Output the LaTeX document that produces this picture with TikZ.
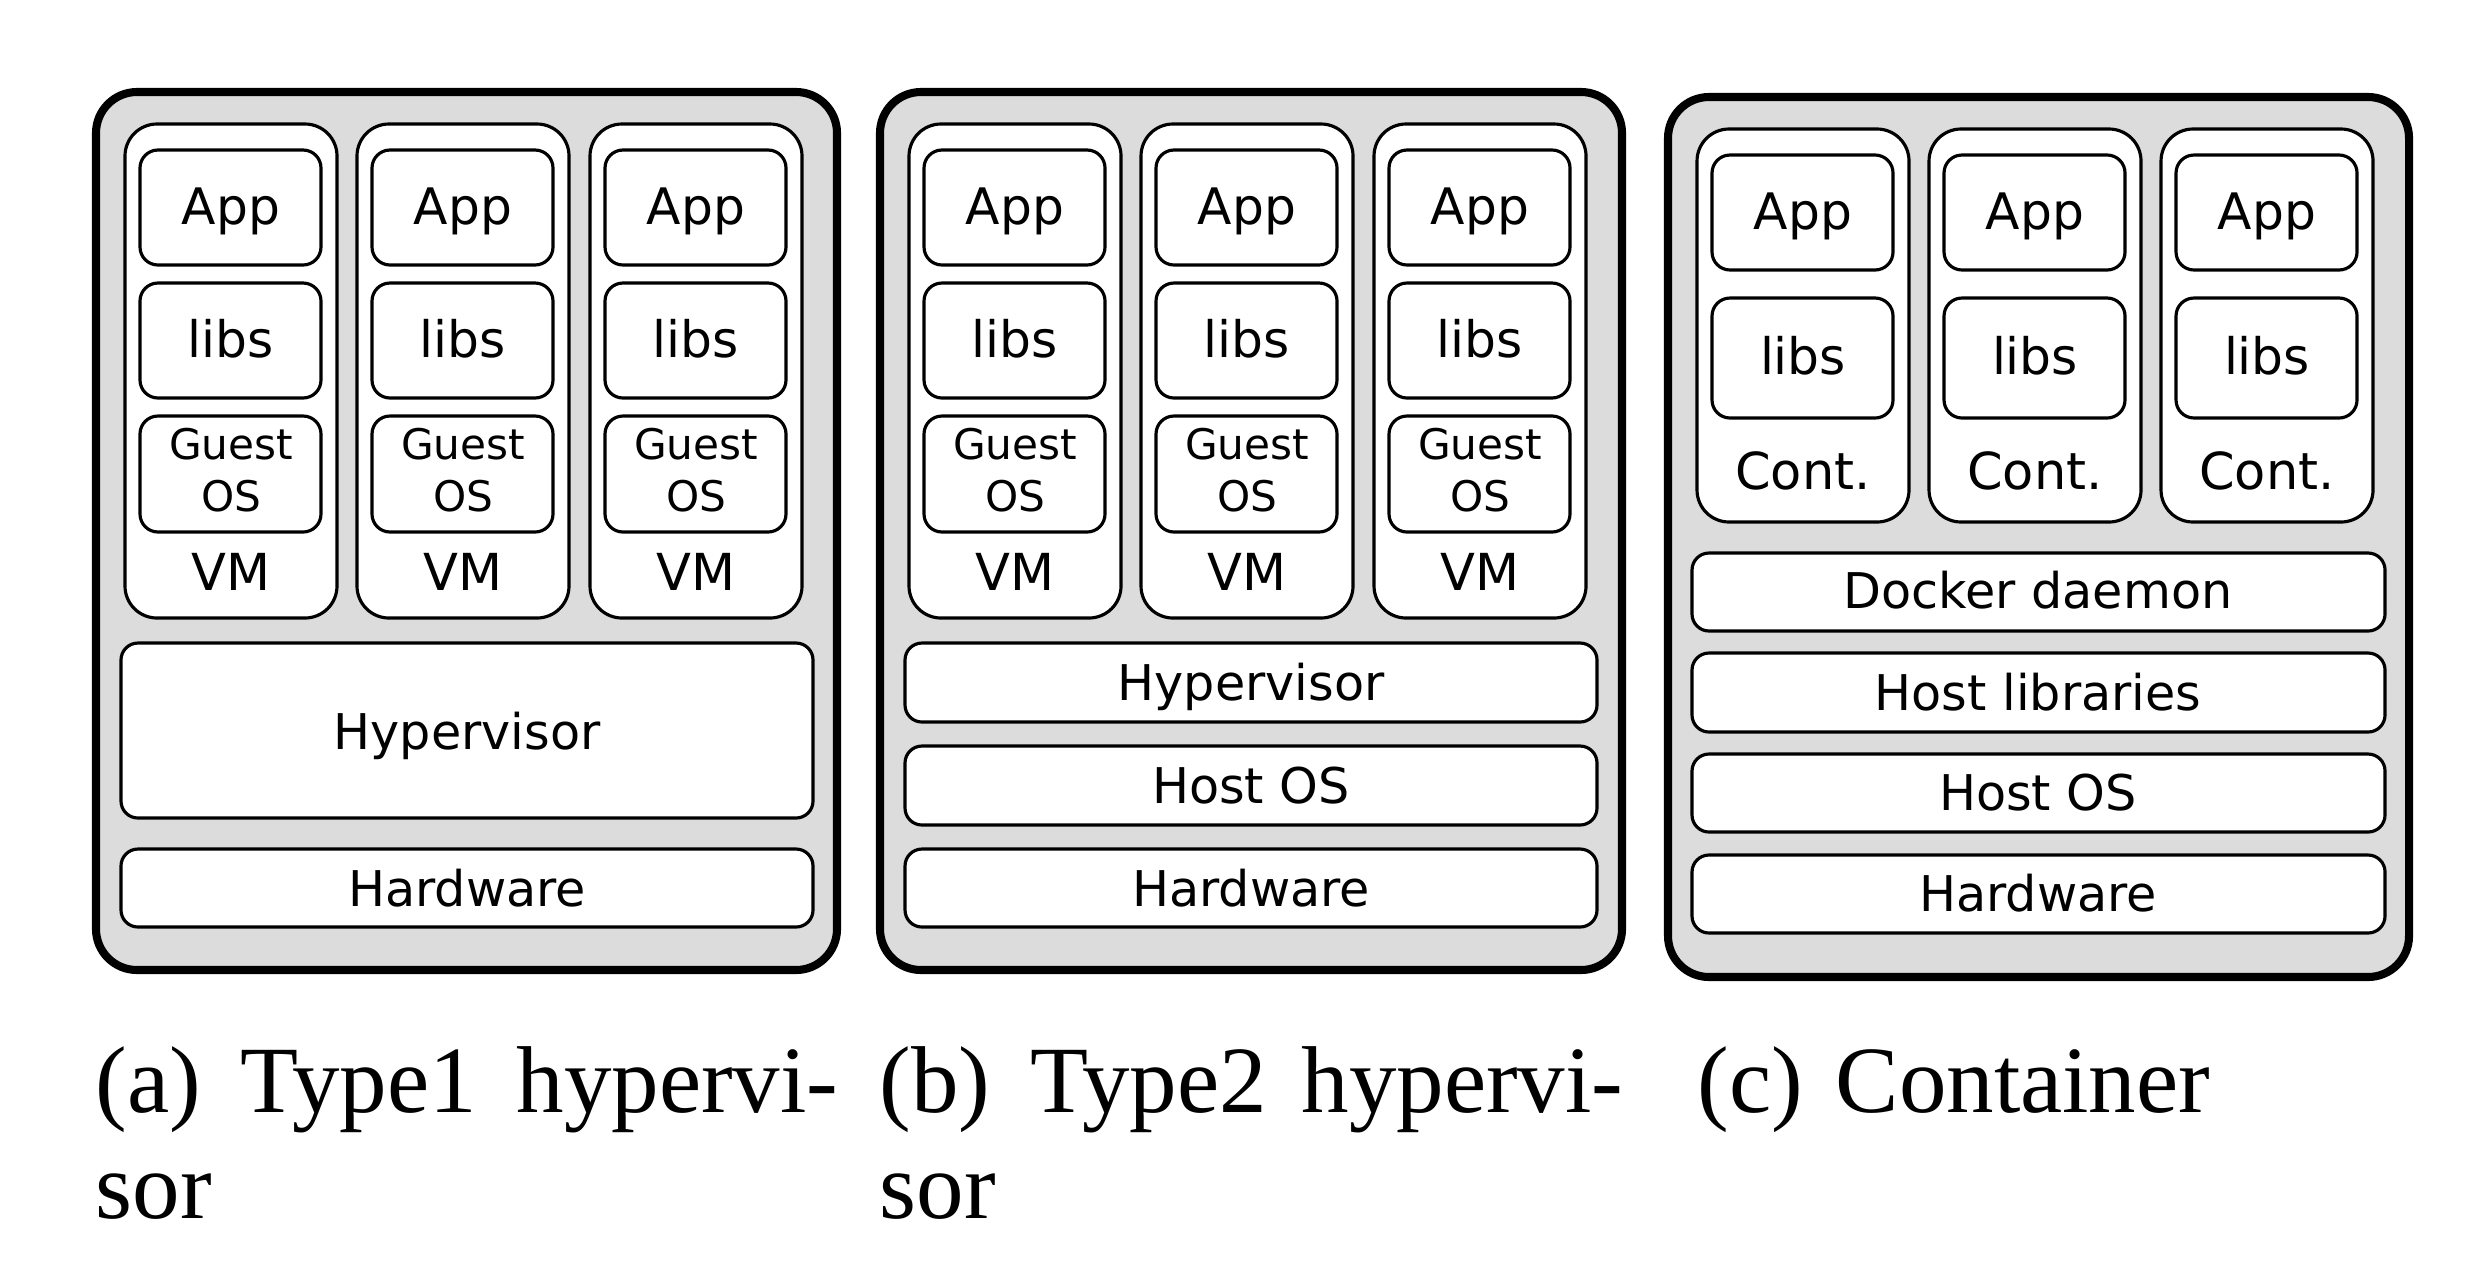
\documentclass[tikz,border=0pt]{standalone}
\usepackage{fontspec}
\newfontfamily\boxfont{DejaVu Sans}
\newfontfamily\capfont{Liberation Serif}
\usetikzlibrary{fit}
\definecolor{panelgray}{HTML}{DCDCDC}
\tikzset{
  panel/.style={draw=black, line width=2.3pt, fill=panelgray, rounded corners=0.41cm, inner sep=0pt},
  vmbox/.style={draw=black, line width=0.9pt, fill=white, rounded corners=0.32cm, inner sep=0pt},
  appbox/.style={draw=black, line width=0.9pt, fill=white, rounded corners=0.18cm, inner sep=0pt},
  layer/.style={draw=black, line width=0.9pt, fill=white, rounded corners=0.17cm, inner sep=0pt},
  boxtext/.style={font=\boxfont\fontsize{14.3}{17}\selectfont, anchor=base, inner sep=0pt},
  layertext/.style={font=\boxfont\fontsize{14}{17}\selectfont, anchor=base, inner sep=0pt},
  guesttext/.style={font=\boxfont\fontsize{12}{14.8}\selectfont, anchor=base, inner sep=0pt},
  vmlabel/.style={font=\boxfont\fontsize{14.5}{17}\selectfont, anchor=base, inner sep=0pt},
  captext/.style={font=\capfont\fontsize{27}{30}\selectfont, inner sep=0pt}
}
\begin{document}
\begin{tikzpicture}[x=0.01cm, y=-0.01cm]
\useasboundingbox (0,0) rectangle (2492,1284);
% panels
\node[panel, fit={(96,92) (837,970)}] (pa) {};
\node[panel, fit={(880,92) (1622,970)}] (pb) {};
\node[panel, fit={(1668,97) (2409,977)}] (pc) {};
% VM stacks (a) and (b)
\foreach \p/\ox in {a/0, b/784} {
  \foreach \i/\l in {1/125, 2/357, 3/590} {
    \pgfmathsetmacro\vl{\l+\ox}
    \pgfmathsetmacro\vr{\l+\ox+212}
    \pgfmathsetmacro\al{\l+\ox+15}
    \pgfmathsetmacro\ar{\l+\ox+196}
    \pgfmathsetmacro\vc{\l+\ox+106}
    \node[vmbox, fit={(\vl,124) (\vr,618)}] (\p-vm\i) {};
    \node[appbox, fit={(\al,150) (\ar,265)}] (\p-app\i) {};
    \node[appbox, fit={(\al,283) (\ar,398)}] (\p-libs\i) {};
    \node[appbox, fit={(\al,416) (\ar,532)}] (\p-os\i) {};
    \node[boxtext] (\p-appT\i) at (\vc,224) {App};
    \node[boxtext] (\p-libsT\i) at (\vc,357) {libs};
    \node[guesttext] (\p-osTa\i) at (\vc,459) {Guest};
    \node[guesttext] (\p-osTb\i) at (\vc,511) {OS};
    \node[vmlabel] (\p-vml\i) at (\vc,590) {VM};
  }
}
% containers (c)
\foreach \i/\l in {1/1697, 2/1929, 3/2161} {
  \pgfmathsetmacro\vr{\l+212}
  \pgfmathsetmacro\al{\l+15}
  \pgfmathsetmacro\ar{\l+196}
  \pgfmathsetmacro\vc{\l+106}
  \node[vmbox, fit={(\l,129) (\vr,522)}] (c-cont\i) {};
  \node[appbox, fit={(\al,155) (\ar,270)}] (c-app\i) {};
  \node[appbox, fit={(\al,298) (\ar,418)}] (c-libs\i) {};
  \node[boxtext] (c-appT\i) at (\vc,229) {App};
  \node[boxtext] (c-libsT\i) at (\vc,374) {libs};
  \node[vmlabel] (c-contl\i) at (\vc,489) {Cont.};
}
% layers
\node[layer, fit={(121,643) (813,818)}] (a-hyp) {};
\node[layer, fit={(121,849) (813,927)}] (a-hw) {};
\node[layer, fit={(905,643) (1597,722)}] (b-hyp) {};
\node[layer, fit={(905,746) (1597,825)}] (b-host) {};
\node[layer, fit={(905,849) (1597,927)}] (b-hw) {};
\node[layer, fit={(1692,553) (2385,631)}] (c-dock) {};
\node[layer, fit={(1692,653) (2385,732)}] (c-hlib) {};
\node[layer, fit={(1692,754) (2385,832)}] (c-host) {};
\node[layer, fit={(1692,855) (2385,933)}] (c-hw) {};
\node[layertext] (a-hypT) at (467,749) {Hypervisor};
\node[layertext] (a-hwT) at (467,906) {Hardware};
\node[layertext] (b-hypT) at (1251,700) {Hypervisor};
\node[layertext] (b-hostT) at (1251,803) {Host OS};
\node[layertext] (b-hwT) at (1251,906) {Hardware};
\node[layertext] (c-dockT) at (2038,608) {Docker daemon};
\node[layertext] (c-hlibT) at (2038,710) {Host libraries};
\node[layertext] (c-hostT) at (2038,810) {Host OS};
\node[layertext] (c-hwT) at (2038,911) {Hardware};
% captions
\node[captext, anchor=base west] (capa1) at (95,1112) {(a)};
\node[captext, anchor=base west] (capa2) at (240,1112) {Type1};
\node[captext, anchor=base east] (capa3) at (839,1112) {hypervi-};
\node[captext, anchor=base west] (capa4) at (95,1218) {sor};
\node[captext, anchor=base west] (capb1) at (879,1112) {(b)};
\node[captext, anchor=base west] (capb2) at (1030,1112) {Type2};
\node[captext, anchor=base east] (capb3) at (1624,1112) {hypervi-};
\node[captext, anchor=base west] (capb4) at (879,1218) {sor};
\node[captext, anchor=base west] (capc1) at (1697,1112) {(c)};
\node[captext, anchor=base west] (capc2) at (1835,1112) {Container};
\end{tikzpicture}
\end{document}
